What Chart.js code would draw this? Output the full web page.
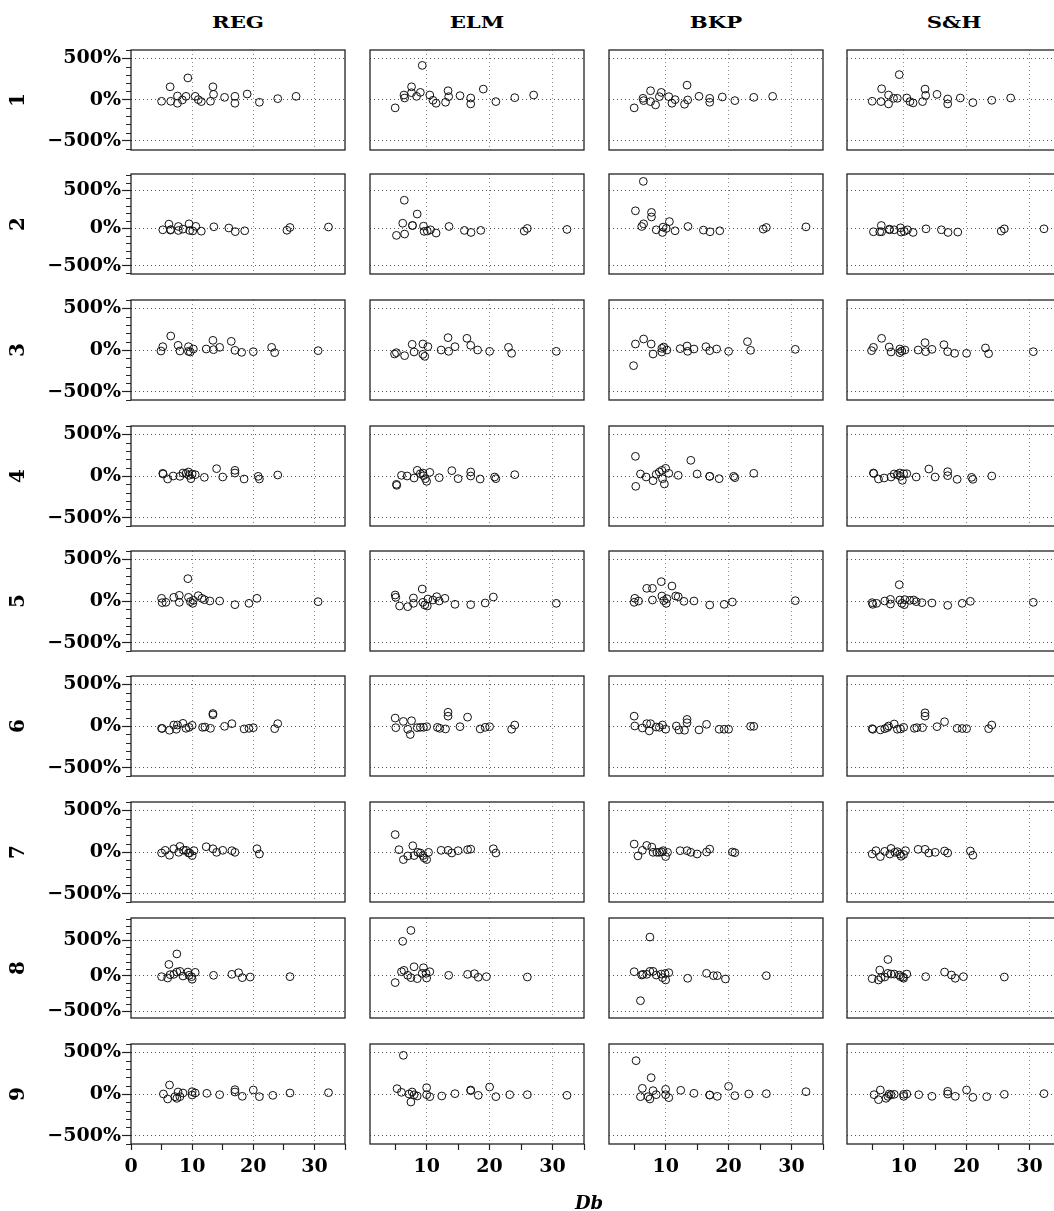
<!DOCTYPE html>
<html>
<head>
<meta charset="utf-8">
<script src="https://cdn.jsdelivr.net/npm/chart.js@4.4.0/dist/chart.umd.min.js"></script>
<style>
html, body { margin: 0; padding: 0; background: #fff; overflow: hidden; }
#wrap { position: relative; width: 1054px; height: 1211px; overflow: hidden; }
#wrap canvas { position: absolute; }
.lbl { position: absolute; font-family: "DejaVu Serif", serif; font-weight: bold; color: #000; white-space: nowrap; }
</style>
</head>
<body>
<div id="wrap"></div>
<script>
const methods = ["REG", "ELM", "BKP", "S&H"]
const rowNames = ["1", "2", "3", "4", "5", "6", "7", "8", "9"]
const xLabel = "Db"

// Db (x) per row, shared by the four methods
const db1 = [5.0, 6.4, 6.5, 7.6, 7.6, 8.4, 9.0, 9.3, 10.5, 11.0, 11.5, 13.0, 13.4, 13.5, 15.3, 17.0, 17.0, 19.0, 21.0, 24.0, 27.0]
const reg1 = [-20, 156, -20, 44, -44, -4, 40, 264, 40, 0, -24, -20, 156, 64, 28, 40, -44, 68, -32, 12, 40]
const elm1 = [-100, 56, 20, 156, 84, 40, 88, 416, 56, -8, -44, -32, 108, 36, 48, 20, -52, 128, -24, 24, 56]
const bkp1 = [-100, 16, -12, 108, -24, -64, 36, 88, 36, -44, 0, -56, 176, -4, 40, 16, -32, 32, -12, 28, 40]
const sh1 = [-20, -24, 132, 56, -52, 16, 16, 304, 20, -24, -40, -24, 128, 52, 64, 8, -52, 20, -36, -8, 20]

const db2 = [5.2, 6.2, 6.45, 6.5, 7.75, 7.75, 8.5, 9.5, 9.6, 10.1, 10.6, 11.5, 13.55, 16.0, 17.05, 18.6, 25.5, 26.0, 32.3]
const reg2 = [-22, 53, -26, -20, 22, -31, -13, 57, -31, -37, 24, -40, 18, 2, -46, -35, -28, 9, 15]
const elm2 = [-96, 65, 370, -78, 35, 35, 187, 26, -43, -39, -22, -65, 22, -30, -57, -30, -39, -4, -17]
const bkp2 = [230, 22, 620, 57, 209, 148, -22, -57, 13, -4, 87, -35, 22, -26, -48, -35, -13, 9, 17]
const sh2 = [-48, -48, 35, -48, -22, -13, -22, 4, -52, -43, -22, -57, -9, -22, -57, -52, -39, -9, -9]

const db3 = [4.9, 5.2, 6.5, 7.7, 8.0, 9.4, 9.4, 9.7, 10.2, 12.3, 13.4, 13.5, 14.5, 16.4, 17.0, 18.1, 20.0, 23.0, 23.5, 30.6]
const reg3 = [-12, 40, 168, 56, -12, 40, -16, -24, 12, 12, 116, 4, 32, 104, -4, -28, -20, 32, -32, -8]
const elm3 = [-48, -32, -68, 68, -24, 72, -52, -76, 40, 0, 148, -16, 40, 140, 56, 0, -16, 32, -40, -16]
const bkp3 = [-188, 72, 132, 72, -48, 20, -24, 36, 0, 16, 48, -16, 12, 40, -8, 12, -16, 100, -4, 8]
const sh3 = [-8, 32, 140, 36, -24, 12, -32, -12, 0, 0, 88, -20, 8, 64, -20, -40, -40, 24, -44, -20]

const db4 = [5.2, 5.25, 6.0, 6.9, 8.0, 8.5, 9.0, 9.4, 9.5, 9.8, 10.0, 10.5, 12.0, 14.0, 15.0, 17.0, 17.0, 18.5, 20.8, 21.0, 24.0]
const reg4 = [32, 24, -36, 0, -4, 36, 30, 48, 8, -32, 24, 16, -16, 88, -12, 68, 36, -36, -4, -36, 12]
const elm4 = [-100, -112, 8, 0, -24, 68, 28, 36, 4, -32, -64, 44, -20, 64, -32, 48, 0, -36, -12, -32, 16]
const bkp4 = [236, -124, 24, -12, -56, 20, 48, 68, -32, -96, 92, 32, 8, 188, 24, -4, -4, -32, -4, -20, 32]
const sh4 = [36, 30, -36, -24, -12, 24, 16, 36, -4, -52, 28, 28, -12, 84, -12, 52, 4, -40, -16, -40, 0]

const db5 = [5.0, 5.1, 5.7, 7.0, 7.9, 7.9, 9.3, 9.4, 9.7, 10.1, 10.2, 11.0, 11.6, 12.0, 12.9, 14.5, 17.0, 19.3, 20.6, 30.6]
const reg5 = [32, -20, -16, 44, 68, -16, 268, 44, -8, -28, 8, 64, 32, 16, 0, 0, -44, -28, 32, -8]
const elm5 = [72, 44, -60, -68, 36, -28, 144, -16, -48, -60, 24, 12, 52, 0, 32, -40, -44, -24, 48, -28]
const bkp5 = [-16, 32, 0, 152, 152, 12, 232, 60, 4, -28, 28, 180, 60, 52, -4, 0, -48, -40, -12, 4]
const sh5 = [-20, -40, -28, 0, 20, -36, 196, 12, -28, -44, 16, 8, 12, -8, -20, -24, -52, -28, -4, -16]

const db6 = [5.0, 5.1, 6.3, 7.0, 7.4, 7.6, 8.5, 9.0, 9.5, 10.0, 11.7, 12.1, 13.0, 13.4, 13.4, 15.3, 16.5, 18.5, 19.3, 20.0, 23.5, 24.0]
const reg6 = [-28, -30, -51, 12, -39, 12, 32, -28, -16, 8, -16, -12, -28, 150, 134, -4, 28, -35, -28, -20, -32, 28]
const elm6 = [95, -20, 55, -39, -102, 63, -20, -16, -16, -8, -16, -28, -35, 165, 118, -8, 106, -35, -16, -8, -39, 12]
const bkp6 = [118, 0, -24, 28, -59, 28, -12, -16, 12, -39, 0, -47, -51, 79, 39, -47, 20, -39, -39, -39, -4, -4]
const sh6 = [-32, -40, -47, -32, -20, 0, 24, -39, -35, -16, -28, -20, -20, 158, 118, -8, 51, -28, -30, -32, -32, 12]

const db7 = [5.0, 5.6, 6.3, 7.0, 7.8, 8.0, 8.6, 9.0, 9.4, 9.6, 10.0, 10.3, 12.3, 13.4, 14.0, 15.0, 16.5, 17.0, 20.6, 21.0]
const reg7 = [-12, 20, -39, 39, -4, 67, 20, 20, -12, -12, -43, 16, 63, 39, -4, 20, 16, -4, 39, -24]
const elm7 = [209, 28, -91, -47, 75, -43, -4, -12, -43, -71, -91, -4, 20, 20, -12, 16, 28, 35, 39, -12]
const bkp7 = [95, -47, 20, 79, 59, -4, -4, -4, 0, 16, -55, -4, 16, 16, -4, -24, 0, 35, 0, -8]
const sh7 = [-24, 16, -55, 8, -24, 43, -4, 4, -24, -51, -30, 16, 32, 32, -12, -4, 12, -12, 12, -39]

const db8 = [5.0, 6.0, 6.2, 6.4, 7.0, 7.5, 7.5, 8.0, 8.5, 9.3, 9.5, 9.9, 10.0, 10.5, 13.5, 16.5, 17.6, 18.2, 19.5, 26.0]
const reg8 = [-14, -33, 159, 14, 19, 308, 51, 61, -5, 51, 5, -14, -51, 47, 5, 19, 42, -28, -19, -14]
const elm8 = [-98, 56, 486, 75, 5, 640, -28, 126, -42, 33, 112, 33, -33, 56, 5, 19, 28, -23, -14, -19]
const bkp8 = [56, -354, 9, 19, 19, 546, 61, 61, 9, 23, -28, 30, -61, 42, -37, 33, 0, 0, -47, 0]
const sh8 = [-42, -61, 79, -28, -19, 229, 33, 23, 23, 9, -14, -20, -37, 23, -14, 51, 9, -37, -14, -19]

const db9 = [5.3, 6.0, 6.3, 7.2, 7.5, 7.7, 8.0, 8.5, 10.0, 10.0, 10.5, 12.4, 14.5, 17.0, 17.0, 18.2, 20.0, 21.0, 23.2, 26.0, 32.3]
const reg9 = [0, -60, 108, -32, -52, 24, -32, 12, 28, -12, 12, 8, -8, 52, 24, -28, 48, -32, -16, 12, 16]
const elm9 = [64, 20, 464, 0, -96, 24, -10, -24, 76, -8, -32, -24, 4, 48, 40, -16, 84, -32, -8, -8, -16]
const bkp9 = [400, -32, 68, -32, -60, 196, 40, -8, 56, -8, -44, 44, 8, -12, -12, -28, 92, -20, 0, 4, 28]
const sh9 = [-8, -68, 48, -52, -28, 0, -10, -4, -4, -28, 0, -8, -28, 32, 0, -28, 48, -40, -32, -4, 4]

// axis limits
const yLo = [-612, -608, -600, -600, -600, -600, -600, -599, -600]
const yHi = [603, 718, 600, 600, 600, 600, 600, 816, 600]
const xLo = [0, 1, 1, 1]
const xHi = [35, 35, 35, 35]

const dbRows = [db1, db2, db3, db4, db5, db6, db7, db8, db9]
const valRows = [
	[reg1, elm1, bkp1, sh1], [reg2, elm2, bkp2, sh2], [reg3, elm3, bkp3, sh3],
	[reg4, elm4, bkp4, sh4], [reg5, elm5, bkp5, sh5], [reg6, elm6, bkp6, sh6],
	[reg7, elm7, bkp7, sh7], [reg8, elm8, bkp8, sh8], [reg9, elm9, bkp9, sh9]
]

// layout of the panels on the page
const colLeft = [131, 370, 609, 847]
const rowTop = [50, 174, 300, 426, 551, 676, 802, 918, 1044]
const panelW = 214
const panelH = 100
const PAD = 3
const yAxisW = 120
const xAxisH = 48

const wrap = document.getElementById("wrap")
const tickFont = { family: "DejaVu Serif", weight: "bold", size: 19 }

const panelBox = {
	id: "panelBox",
	afterDraw(chart, args, opts) {
		const { ctx, chartArea: a } = chart
		ctx.save()
		if (opts.minorY) {
			const y = chart.scales.y
			ctx.strokeStyle = "#222"
			ctx.lineWidth = 1
			y.ticks.forEach(t => {
				if (t.value % 500 === 0) return
				const py = Math.round(y.getPixelForValue(t.value)) + 0.5
				ctx.beginPath()
				ctx.moveTo(a.left - 5, py)
				ctx.lineTo(a.left, py)
				ctx.stroke()
			})
		}
		ctx.strokeStyle = "#222"
		ctx.lineWidth = 1.3
		ctx.strokeRect(a.left, a.top, a.right - a.left, a.bottom - a.top)
		ctx.restore()
	}
}

function addLabel(text, x, y, css) {
	const d = document.createElement("div")
	d.className = "lbl"
	d.textContent = text
	d.style.left = x + "px"
	d.style.top = y + "px"
	Object.assign(d.style, css)
	wrap.appendChild(d)
}

function makePanel(r, c) {
	const hasY = c === 0
	const hasX = r === 8
	const w = panelW + 2 * PAD + (hasY ? yAxisW : 0)
	const h = panelH + 2 * PAD + (hasX ? xAxisH : 0)
	const canvas = document.createElement("canvas")
	canvas.width = w
	canvas.height = h
	canvas.style.width = w + "px"
	canvas.style.height = h + "px"
	canvas.style.left = (colLeft[c] - PAD - (hasY ? yAxisW : 0)) + "px"
	canvas.style.top = (rowTop[r] - PAD) + "px"
	wrap.appendChild(canvas)

	const xs = dbRows[r]
	const ys = valRows[r][c]

	new Chart(canvas, {
		type: "scatter",
		data: {
			datasets: [{
				data: xs.map((x, i) => ({ x: x, y: ys[i] })),
				pointStyle: "circle",
				pointRadius: 3.9,
				pointBorderWidth: 1,
				pointBorderColor: "#111",
				pointBackgroundColor: "rgba(0,0,0,0)"
			}]
		},
		options: {
			responsive: false,
			animation: false,
			devicePixelRatio: 1,
			layout: { padding: PAD, autoPadding: false },
			plugins: {
				legend: { display: false },
				tooltip: { enabled: false },
				panelBox: { minorY: hasY }
			},
			scales: {
				x: {
					type: "linear",
					min: xLo[c],
					max: xHi[c],
					afterFit: s => {
						s.height = hasX ? xAxisH : 0
						s.paddingLeft = 0
						s.paddingRight = 0
					},
					ticks: {
						display: hasX,
						stepSize: 5,
						autoSkip: false,
						includeBounds: false,
						maxRotation: 0,
						padding: 6,
						color: "#000",
						font: tickFont,
						callback: v => v % 10 === 0 ? String(v) : ""
					},
					grid: {
						drawTicks: hasX,
						tickLength: 6,
						tickWidth: 1.2,
						tickColor: "#222",
						lineWidth: 1,
						color: ctx => (ctx.tick && ctx.tick.value % 10 === 0 && ctx.tick.value > xLo[c] && ctx.tick.value < xHi[c]) ? "#8a8a8a" : "rgba(0,0,0,0)"
					},
					border: { display: false, dash: [1, 3] }
				},
				y: {
					type: "linear",
					min: yLo[r],
					max: yHi[r],
					afterFit: s => {
						s.width = hasY ? yAxisW : 0
						s.paddingTop = 0
						s.paddingBottom = 0
					},
					ticks: {
						display: hasY,
						stepSize: 100,
						autoSkip: false,
						includeBounds: false,
						padding: 1,
						color: "#000",
						font: tickFont,
						callback: v => v % 500 === 0 ? (v < 0 ? "\u2212" : "") + Math.abs(v) + "%" : ""
					},
					grid: {
						drawTicks: hasY,
						tickLength: 9,
						tickWidth: 1.2,
						tickColor: ctx => (ctx.tick && ctx.tick.value % 500 === 0) ? "#222" : "rgba(0,0,0,0)",
						lineWidth: 1,
						color: ctx => (ctx.tick && ctx.tick.value % 500 === 0) ? "#555" : "rgba(0,0,0,0)"
					},
					border: { display: false, dash: [1, 3] }
				}
			}
		},
		plugins: [panelBox]
	})
}

for (let r = 0; r < rowNames.length; r++) {
	for (let c = 0; c < methods.length; c++) {
		makePanel(r, c)
	}
}

methods.forEach((m, c) => {
	addLabel(m, colLeft[c] + panelW / 2, 22, { fontSize: "17px", transform: "translate(-50%, -50%) scaleX(1.25)" })
})
rowNames.forEach((n, r) => {
	addLabel(n, 17, rowTop[r] + panelH / 2, { fontSize: "20px", transform: "translate(-50%, -50%) rotate(-90deg)" })
})
addLabel(xLabel, 589, 1202, { fontSize: "18px", fontStyle: "italic", transform: "translate(-50%, -50%)" })
</script>
</body>
</html>
